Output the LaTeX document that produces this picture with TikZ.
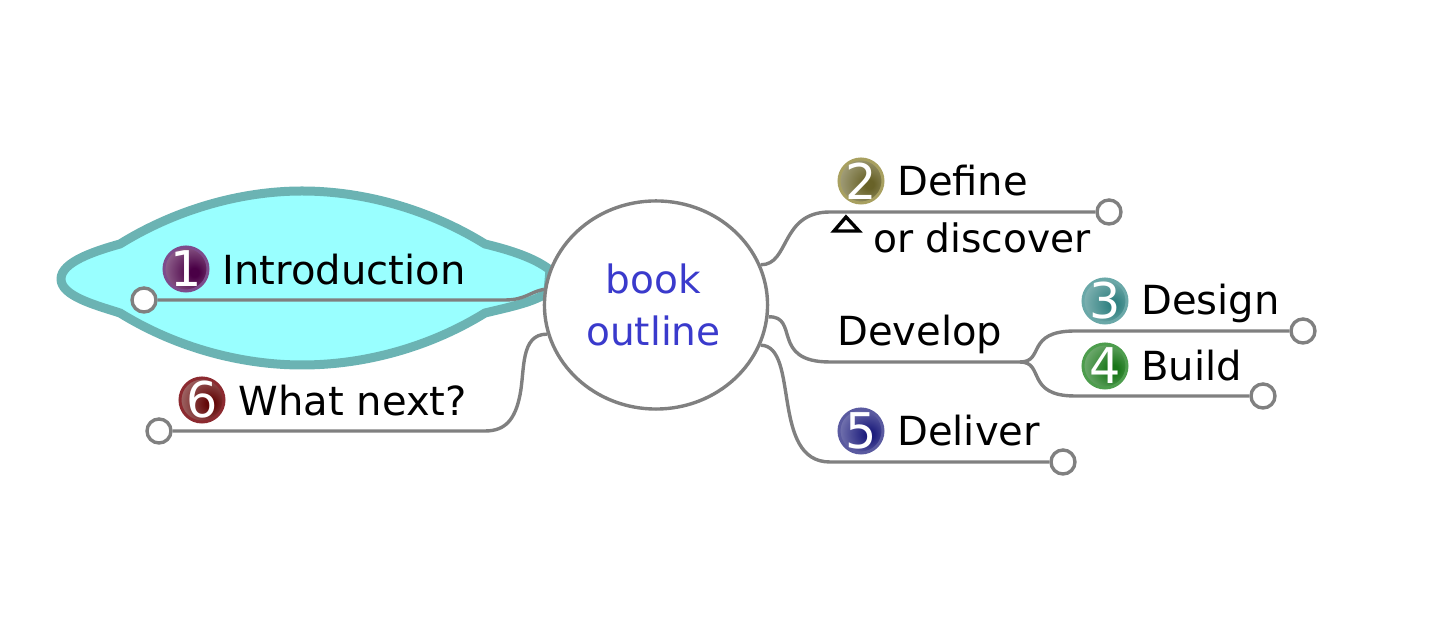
\documentclass[tikz,border=0pt]{standalone}
\usepackage{fontspec}
\setmainfont{DejaVu Sans}
\usetikzlibrary{shapes.geometric}

\definecolor{BubbleColor}{RGB}{153,255,255}
\definecolor{BubbleEdge}{RGB}{107,179,179}
\definecolor{LineColor}{RGB}{128,128,128}
\definecolor{BookColor}{RGB}{58,58,204}

\pgfdeclareradialshading[ballcolor]{iconball}{\pgfpoint{10bp}{-4bp}}{
	color(0bp)=(ballcolor);
	color(5bp)=(ballcolor);
	color(30bp)=(ballcolor!65!white);
	color(52bp)=(ballcolor!22!white);
	color(100bp)=(ballcolor!22!white)}

\tikzset{
	label/.style={anchor=base west,inner sep=0pt,font=\fontsize{11.4}{14}\selectfont},
	link/.style={draw=LineColor,line width=0.034cm},
	endcap/.style={circle,draw=LineColor,fill=white,line width=0.034cm,minimum size=0.24cm,inner sep=0pt},
	iconnode/.style={circle,shading=iconball,text=white,line width=0.03cm,minimum size=0.44cm,inner sep=-3pt,font=\fontsize{14}{14}\selectfont}
}

\begin{document}
\begin{tikzpicture}[x=0.01cm,y=-0.01cm]

	\useasboundingbox (0,0) rectangle (1450,619);

	% Selection bubble

	\filldraw [fill=BubbleColor,draw=BubbleEdge,line width=0.09cm,line join=round]
		(61,279) .. controls (61,262) and (95,251) .. (120,244)
		.. controls (175,210) and (240,191) .. (302,191)
		.. controls (365,191) and (430,210) .. (485,244)
		.. controls (510,250) and (535,258) .. (550,270)
		-- (548,292)
		.. controls (535,302) and (510,307) .. (485,313)
		.. controls (430,347) and (365,365) .. (302,365)
		.. controls (240,365) and (175,347) .. (120,313)
		.. controls (95,305) and (61,296) .. (61,279) -- cycle;

	% Centre

	\node (book) [ellipse,draw=LineColor,fill=white,line width=0.034cm,minimum width=2.23cm,minimum height=2.08cm,inner sep=0pt,
		align=center,text=BookColor,font=\fontsize{11.1}{14.6}\selectfont] at (656,305) {book\kern0.05cm\\outline\kern0.05cm};

	% Branch ends

	\node (endintro) [endcap] at (144,300) {};
	\node (endnext) [endcap] at (159,431) {};
	\node (enddefine) [endcap] at (1109,212) {};
	\node (enddesign) [endcap] at (1303,331) {};
	\node (endbuild) [endcap] at (1263,396) {};
	\node (enddeliver) [endcap] at (1063,462) {};
	\coordinate (fork) at (1020,362);

	% Branches

	\draw [link] (book.172) .. controls (530,292) and (525,300) .. (505,300) -- (endintro);
	\draw [link] (book.195) .. controls (520,334) and (525,370) .. (520,395) .. controls (515,420) and (505,431) .. (485,431) -- (endnext);
	\draw [link] (book.21) .. controls (790,265) and (780,212) .. (830,212) -- (enddefine);
	\draw [link] (book.-6) .. controls (800,316) and (770,362) .. (830,362) -- (fork);
	\draw [link] (fork) .. controls (1045,362) and (1025,331) .. (1075,331) -- (enddesign);
	\draw [link] (fork) .. controls (1045,362) and (1025,396) .. (1075,396) -- (endbuild);
	\draw [link] (book.-21) .. controls (800,346) and (770,462) .. (830,462) -- (enddeliver);

	% Icons

	\foreach \iconname/\iconx/\icony/\iconcol/\iconedge/\icontext in {
		iconintro/186/269/{rgb,255:red,74;green,0;blue,70}/{rgb,255:red,125;green,75;blue,140}/1,
		icondefine/861/181/{rgb,255:red,104;green,98;blue,40}/{rgb,255:red,168;green,160;blue,96}/2,
		icondesign/1105/301/{rgb,255:red,50;green,130;blue,130}/{rgb,255:red,106;green,168;blue,168}/3,
		iconbuild/1105/366/{rgb,255:red,24;green,118;blue,24}/{rgb,255:red,77;green,157;blue,77}/4,
		icondeliver/861/431/{rgb,255:red,30;green,30;blue,125}/{rgb,255:red,90;green,90;blue,160}/5,
		iconnext/202/400/{rgb,255:red,100;green,8;blue,8}/{rgb,255:red,140;green,42;blue,48}/6} {
		\colorlet{ballcolor}{\iconcol}
		\colorlet{balledge}{\iconedge}
		\node (\iconname) [iconnode,draw=balledge] at (\iconx,\icony) {\icontext};
	}

	% Labels

	\node (intro) [label] at (222,285) {Introduction};
	\node (next) [label] at (238,416) {What next?};
	\node (define) [label] at (896.5,196) {Define};
	\node (discover) [label,font=\fontsize{11.15}{14}\selectfont] at (872.5,253) {or discover};
	\node (develop) [label] at (836.5,346) {Develop};
	\node (design) [label] at (1140.5,315) {Design};
	\node (build) [label] at (1140.5,381) {Build};
	\node (deliver) [label] at (896.5,446) {Deliver};

	% Note mark

	\draw [line width=0.034cm,line join=miter] (834,231) -- (846,217) -- (859,231) -- cycle;

\end{tikzpicture}
\end{document}
